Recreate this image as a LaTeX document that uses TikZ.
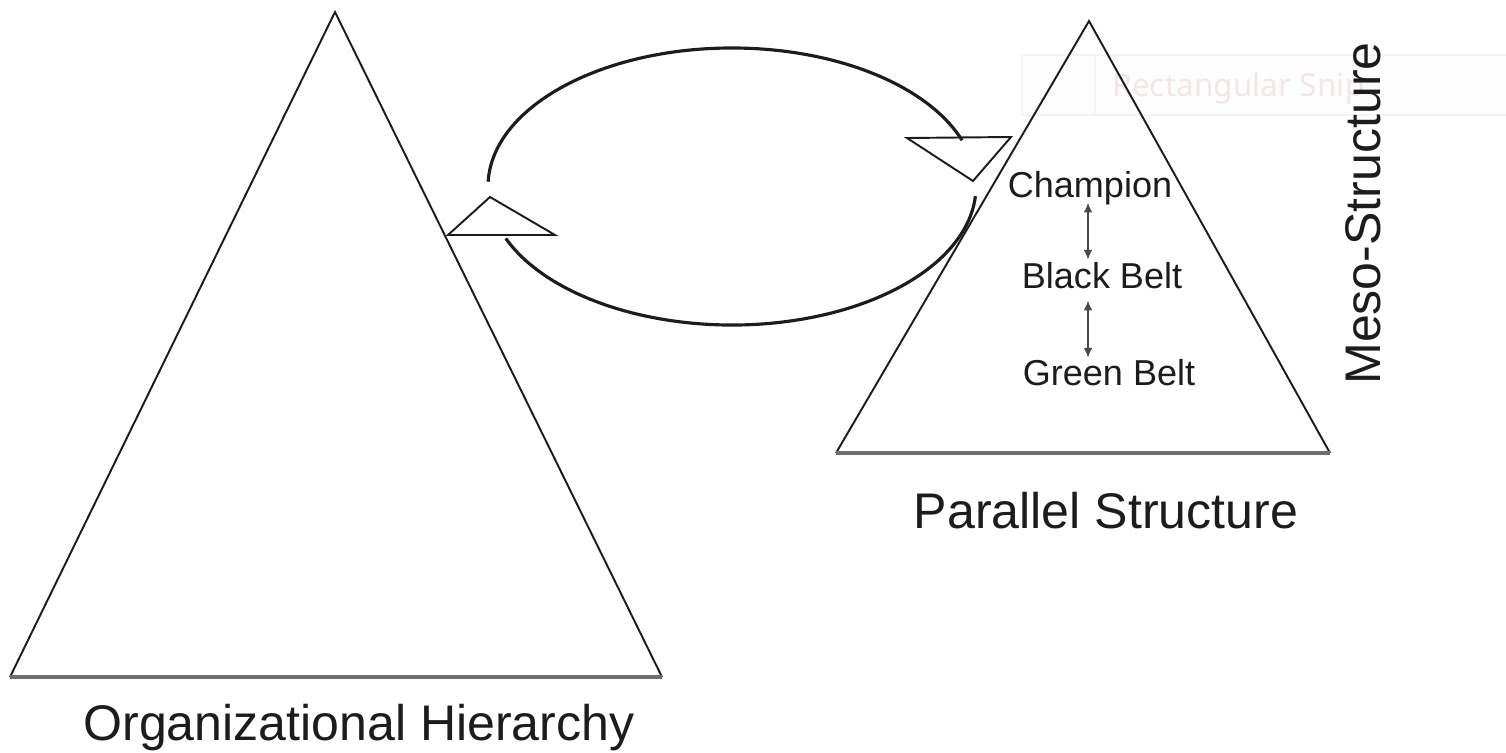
\documentclass[tikz,border=0pt]{standalone}
\usepackage{fontspec}
\setmainfont{Liberation Sans}
\newfontfamily\snipfont{Noto Sans}
\usetikzlibrary{arrows.meta,positioning,calc}
\usepackage{xcolor}
\definecolor{ink}{HTML}{1C1C1C}
\definecolor{baseink}{HTML}{6E6E6E}
\definecolor{belt}{HTML}{4A4A4A}
\definecolor{snipedge}{HTML}{F1F4F9}
\definecolor{snipfill}{HTML}{FDFDFE}
\definecolor{sniptext}{HTML}{F5E6E6}
\tikzset{
  >=Latex,
  every node/.style={text=ink,inner sep=0pt},
  title/.style={font=\fontsize{28.5}{34}\selectfont,anchor=base},
  role/.style={font=\fontsize{20.5}{24}\selectfont,anchor=base},
  pyramid/.style={draw=ink,line width=1.1pt,line join=miter},
  pyrbase/.style={draw=baseink,line width=1.8pt},
  loopline/.style={draw=ink,line width=1.8pt},
  marker/.style={draw=ink,line width=1.1pt,line join=miter},
  link/.style={{Latex[length=5.5pt,width=5pt]}-{Latex[length=5.5pt,width=5pt]},draw=belt,line width=0.8pt},
}

\begin{document}
\begin{tikzpicture}[x=0.02cm,y=-0.02cm]
\useasboundingbox (0,0) rectangle (1506,753);

% leftover of the screen capture
\fill[snipfill] (1022,55) rectangle (1506,115);
\draw[snipedge,line width=0.8pt] (1506,55) -- (1022,55) -- (1022,115) -- (1506,115);
\draw[snipedge,line width=0.8pt] (1095,55) -- (1095,115);
\node[anchor=base west,text=sniptext,font=\snipfont\fontsize{18}{22}\selectfont] (snip) at (1112,97) {Rectangular Snip};

% organizational hierarchy
\draw[pyramid] (10,677) -- (335,12) -- (662,677);
\draw[pyrbase] (10,677) -- (662,677);
\node[title] (org) at (359,740) {Organizational Hierarchy};

% parallel structure
\draw[pyramid] (836,453) -- (1089,21) -- (1330,453);
\draw[pyrbase] (836,453) -- (1330,453);
\node[title] (par) at (1106,528) {Parallel Structure};

% exchange loop
\draw[loopline] (732,186.5) ++(158:244 and 138.5) arc[start angle=158,end angle=4,x radius=244,y radius=138.5];
\draw[loopline] (732,186.5) ++(182:244 and 138.5) arc[start angle=182,end angle=340.5,x radius=244,y radius=138.5];
\draw[marker] (448,235) -- (555,235) -- (490,197) -- cycle;
\draw[marker] (907,138) -- (1011,137) -- (973,181) -- cycle;

% roles
\node[role] (champ) at (1090,197) {Champion};
\node[role] (black) at (1102,288) {Black Belt};
\node[role] (green) at (1109,385) {Green Belt};
\coordinate (axis) at (1088,0);
\draw[link] ($(champ.south -| axis)+(0,-2)$) -- ($(black.north -| axis)+(0,-2)$);
\draw[link] ($(black.south -| axis)+(0,12)$) -- ($(green.north -| axis)+(0,-1)$);

\node[title,rotate=90] (meso) at (1380,213.5) {Meso-Structure};

\end{tikzpicture}
\end{document}
